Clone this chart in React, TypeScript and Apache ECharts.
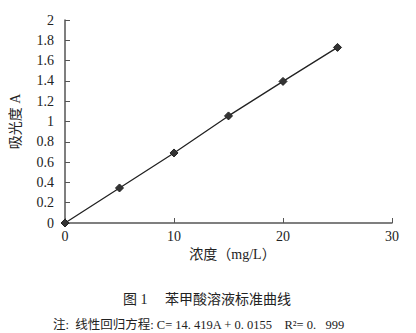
import React, { useEffect, useRef } from "react";
import * as echarts from "echarts";

const concentrations = [0, 5, 10, 15, 20, 25];
const absorbance = [0, 0.345, 0.69, 1.055, 1.395, 1.73];
const titleText = "图 1     苯甲酸溶液标准曲线";
const noteText = "注:  线性回归方程: C= 14. 419A + 0. 0155    R²= 0.   999";
const xName = "浓度（mg/L）";
const yName = "吸光度 A";

const FONT = "'Liberation Serif', 'DejaVu Serif', 'Noto Sans CJK SC', serif";

export default function App() {
  const ref = useRef<HTMLDivElement>(null);
  useEffect(() => {
    if (!ref.current) return;
    const chart = echarts.init(ref.current, null, { renderer: "svg" });
    chart.setOption({
      animation: false,
      backgroundColor: "#fff",
      textStyle: { fontFamily: FONT },
      grid: { left: 64, right: 24, top: 20, bottom: 110 },
      title: [
        {
          text: titleText,
          left: 118,
          top: 287,
          textStyle: { fontFamily: FONT, fontSize: 14, fontWeight: "normal", color: "#222" },
        },
        {
          text: noteText,
          left: 48,
          top: 314,
          textStyle: { fontFamily: FONT, fontSize: 12.5, fontWeight: "normal", color: "#222" },
        },
      ],
      xAxis: {
        type: "value",
        min: 0,
        max: 30,
        interval: 10,
        name: xName,
        nameLocation: "middle",
        nameGap: 22,
        nameTextStyle: { fontFamily: FONT, fontSize: 14, color: "#222", padding: [0, 0, 0, 8] },
        axisLine: { lineStyle: { color: "#555", width: 1.5 } },
        axisTick: { inside: true, length: 5, lineStyle: { color: "#555" } },
        axisLabel: { fontFamily: FONT, fontSize: 14, color: "#222", margin: 6 },
        splitLine: { show: false },
      },
      yAxis: {
        type: "value",
        min: 0,
        max: 2,
        interval: 0.2,
        name: yName,
        nameLocation: "middle",
        nameGap: 43,
        nameTextStyle: { fontFamily: FONT, fontSize: 14, color: "#222" },
        axisLine: { show: true, lineStyle: { color: "#555", width: 1.5 } },
        axisTick: { show: true, inside: true, length: 5, lineStyle: { color: "#555" } },
        axisLabel: {
          fontFamily: FONT,
          fontSize: 14,
          color: "#222",
          margin: 11,
          formatter: (v: number) => String(Math.round(v * 10) / 10),
        },
        splitLine: { show: false },
      },
      series: [
        {
          type: "line",
          data: concentrations.map((c, i) => [c, absorbance[i]]),
          symbol: "diamond",
          symbolSize: 8,
          showAllSymbol: true,
          lineStyle: { color: "#222", width: 1.3 },
          itemStyle: { color: "#333", borderColor: "#222", borderWidth: 1 },
        },
      ],
    });
    return () => chart.dispose();
  }, []);
  return <div ref={ref} style={{ width: 416, height: 333, margin: "-8px 0 0 -8px" }} />;
}
